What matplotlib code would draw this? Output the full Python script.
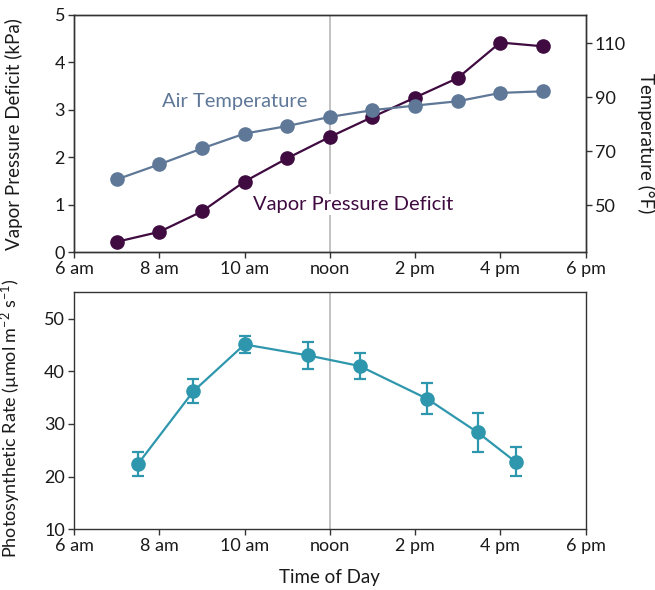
import matplotlib.pyplot as plt

plt.rcParams['font.family'] = ['Lato', 'DejaVu Sans']
plt.rcParams['mathtext.fontset'] = 'custom'
plt.rcParams['mathtext.rm'] = 'Lato'
plt.rcParams['mathtext.it'] = 'Lato:italic'
plt.rcParams['mathtext.bf'] = 'Lato:bold'

# top panel: hourly readings, 7 am to 5 pm
hours = [7, 8, 9, 10, 11, 12, 13, 14, 15, 16, 17]
vpd_kpa = [0.22, 0.43, 0.86, 1.49, 1.98, 2.43, 2.85, 3.26, 3.67, 4.42, 4.34]
air_temp_f = [59.5, 65.1, 71.0, 76.5, 79.3, 82.7, 85.2, 86.9, 88.5, 91.6, 92.2]

# bottom panel: photosynthetic rate with error bars
photo_hours = [7.5, 8.8, 10.0, 11.5, 12.7, 14.28, 15.47, 16.36]
photo_rate = [22.4, 36.2, 45.1, 43.0, 41.0, 34.8, 28.4, 22.8]
photo_err = [2.2, 2.3, 1.6, 2.5, 2.5, 2.9, 3.65, 2.75]

tick_hours = [6, 8, 10, 12, 14, 16, 18]
tick_labels = ['6 am', '8 am', '10 am', 'noon', '2 pm', '4 pm', '6 pm']

VPD_COLOR = '#3f0b40'
AIR_COLOR = '#5f7898'
PHOTO_COLOR = '#2e97ad'
SPINE = '#333333'
TEXT = '#1a1a1a'


def style_axes(ax):
    for sp in ax.spines.values():
        sp.set_color(SPINE)
        sp.set_linewidth(1.0)
    ax.tick_params(direction='out', length=4.5, width=1.0, color=SPINE,
                   labelsize=13, labelcolor=TEXT, pad=2)


fig = plt.figure(figsize=(6.55, 5.9), dpi=100)
ax1 = fig.add_axes([0.1130, 0.5724, 0.7809, 0.4022])
ax2 = ax1.twinx()
ax3 = fig.add_axes([0.1130, 0.1029, 0.7809, 0.4017])

# --- top panel ---
ax1.axvline(12, color='#bdbdbd', lw=1.3, zorder=1)
ax1.plot(hours, vpd_kpa, '-o', color=VPD_COLOR, lw=1.6, ms=9.5, zorder=3)
ax1.text(10.2, 1.0, 'Vapor Pressure Deficit', color=VPD_COLOR, fontsize=14.5,
         ha='left', va='center', zorder=4,
         bbox=dict(facecolor='white', edgecolor='none', pad=1.5))
ax1.text(8.06, 3.17, 'Air Temperature', color=AIR_COLOR, fontsize=14.5,
         ha='left', va='center', zorder=4)
ax1.set_xlim(6, 18)
ax1.set_ylim(0, 5)
ax1.set_xticks(tick_hours)
ax1.set_xticklabels(tick_labels)
ax1.set_yticks([0, 1, 2, 3, 4, 5])
ax1.set_ylabel('Vapor Pressure Deficit (kPa)', fontsize=13.5, color=TEXT)
ax1.yaxis.set_label_coords(-0.10, 0.5)
style_axes(ax1)

ax2.plot(hours, air_temp_f, '-o', color=AIR_COLOR, lw=1.6, ms=9.5, zorder=3)
ax2.set_ylim(32.5, 120.5)
ax2.set_yticks([50, 70, 90, 110])
ax2.set_ylabel('Temperature (°F)', fontsize=13.5, color=TEXT,
               rotation=270, va='center')
ax2.yaxis.set_label_coords(1.118, 0.46)
style_axes(ax2)

# --- bottom panel ---
ax3.axvline(12, color='#bdbdbd', lw=1.3, zorder=1)
ax3.errorbar(photo_hours, photo_rate, yerr=photo_err, fmt='-o',
             color=PHOTO_COLOR, lw=1.6, ms=9.5, elinewidth=1.6,
             capsize=4.5, capthick=1.6, zorder=3)
ax3.set_xlim(6, 18)
ax3.set_ylim(10, 55)
ax3.set_xticks(tick_hours)
ax3.set_xticklabels(tick_labels)
ax3.set_yticks([10, 20, 30, 40, 50])
ax3.set_ylabel('Photosynthetic Rate (µmol m$^{-2}$ s$^{-1}$)', fontsize=13,
               color=TEXT)
ax3.yaxis.set_label_coords(-0.10, 0.47)
ax3.set_xlabel('Time of Day', fontsize=13.5, color=TEXT, va='center')
ax3.xaxis.set_label_coords(0.5, -0.205)
style_axes(ax3)

fig.savefig('out.png', dpi=100)
